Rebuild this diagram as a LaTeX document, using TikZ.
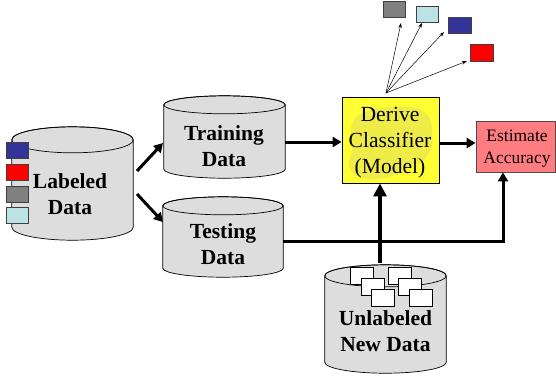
\documentclass[tikz,border=0pt]{standalone}
\usepackage{fontspec}
\setmainfont{Liberation Serif}
\usetikzlibrary{arrows.meta,calc}
\definecolor{cylfill}{HTML}{DDDDDD}
\definecolor{dblue}{HTML}{333399}
\definecolor{lcyan}{HTML}{BDE2E6}
\definecolor{mgray}{HTML}{808080}
\definecolor{pinkred}{HTML}{FF7C80}
\definecolor{yel}{HTML}{FFFF33}
\definecolor{blobc}{HTML}{EFEC48}
\newcommand\drawcylinder[2]{%
  \path[draw=black,line width=0.7pt,fill=cylfill]
    let \p1=(#1.north west), \p2=(#1.south east), \n1={(\x2-\x1)/2} in
    (\x1,\y1-#2pt) -- (\x1,\y2+#2pt)
    arc[start angle=180,end angle=360,x radius=\n1,y radius=#2pt]
    -- (\x2,\y1-#2pt)
    arc[start angle=0,end angle=180,x radius=\n1,y radius=#2pt] -- cycle;
  \path[draw=black,line width=0.7pt]
    let \p1=(#1.north west), \p2=(#1.south east), \n1={(\x2-\x1)/2} in
    (\x1+\n1,\y1-#2pt) ellipse[x radius=\n1,y radius=#2pt];
}
\begin{document}
\begin{tikzpicture}[x=1pt,y=-1pt,
  cylbox/.style={rectangle,inner sep=0pt,minimum width=#1},
  boldtext/.style={align=center,inner sep=0pt,font=\bfseries\fontsize{21.5}{26}\selectfont},
  sq/.style={draw=black!75,line width=0.8pt,minimum width=22pt,minimum height=16pt,inner sep=0pt},
  wsq/.style={draw=black,fill=white,line width=0.8pt,minimum width=23pt,minimum height=17pt,inner sep=0pt},
  thickarrow/.style={line width=3pt,-{Triangle[length=9pt,width=10pt]}},
  bigarrow/.style={line width=3.6pt,-{Triangle[length=13pt,width=13pt]}},
  thinarrow/.style={line width=0.5pt,-{Stealth[length=5pt,width=3.5pt]}}]
\useasboundingbox (0,0) rectangle (556,376);

% cylinders
\node[cylbox=121pt,minimum height=113pt] (lab) at (72.5,183.5) {};
\node[cylbox=121pt,minimum height=82pt] (train) at (224.5,137) {};
\node[cylbox=120pt,minimum height=80pt] (test) at (223,237) {};
\node[cylbox=121pt,minimum height=108pt] (unl) at (385.5,319) {};
\drawcylinder{lab}{13}
\drawcylinder{train}{9}
\drawcylinder{test}{9}
\drawcylinder{unl}{11}

\node[boldtext] (labt) at (70,194) {Labeled\\Data};
\node[boldtext] (traint) at (224,146) {Training\\Data};
\node[boldtext] (testt) at (223,244) {Testing\\Data};
\node[boldtext] (unlt) at (385.5,331) {Unlabeled\\New Data};

% labeled squares
\node[sq,fill=dblue] (l1) at (17.5,150) {};
\node[sq,fill=red] (l2) at (17.5,172) {};
\node[sq,fill=mgray] (l3) at (17.5,194) {};
\node[sq,fill=lcyan] (l4) at (17.5,215) {};

% unlabeled white sheets
\node[wsq] (w1) at (361.5,275.5) {};
\node[wsq] (w2) at (372.5,287) {};
\node[wsq] (w3) at (383,298) {};
\node[wsq] (w4) at (399.5,275.5) {};
\node[wsq] (w5) at (410,287) {};
\node[wsq] (w6) at (421,298) {};

% derive classifier
\node[draw=black,line width=0.9pt,fill=yel,minimum width=97pt,minimum height=86pt,inner sep=0pt] (derive) at (390.5,140) {};
\fill[blobc] plot[smooth cycle,tension=0.8] coordinates {(352,150) (352,124) (366,112) (395,107) (424,112) (432,134) (426,158) (406,168) (386,178) (361,177) (349,166)};
\node[align=center,inner sep=0pt,font=\fontsize{21.6}{26}\selectfont] (derivet) at (390,143) {Derive\\Classifier\\(Model)};

% estimate accuracy
\node[draw=black!70,line width=0.8pt,fill=pinkred,minimum width=79pt,minimum height=51pt,inner sep=0pt] (est) at (515.5,146.5) {};
\node[align=center,inner sep=0pt,font=\fontsize{17.5}{22}\selectfont] (estt) at (517,149) {Estimate\\Accuracy};

% top class squares
\node[sq,fill=mgray] (t1) at (394,9) {};
\node[sq,fill=lcyan] (t2) at (427,14.5) {};
\node[sq,fill=dblue,minimum width=23pt] (t3) at (459.5,25) {};
\node[sq,fill=red,minimum width=23pt,minimum height=17pt] (t4) at (481.5,52.5) {};

% fan arrows
\coordinate (fan) at (386,93);
\coordinate (f1) at (401,23);
\coordinate (f2) at (422,23);
\coordinate (f3) at (444,32);
\coordinate (f4) at (467,61);
\draw[thinarrow] (fan) -- (f1);
\draw[thinarrow] (fan) -- (f2);
\draw[thinarrow] (fan) -- (f3);
\draw[thinarrow] (fan) -- (f4);

% main arrows
\coordinate (a1s) at (137,171);
\coordinate (a1e) at (163,143);
\coordinate (a2s) at (137,194);
\coordinate (a2e) at (163,222);
\draw[thickarrow] (a1s) -- (a1e);
\draw[thickarrow] (a2s) -- (a2e);
\draw[thickarrow] (train.east |- 0,142) -- (derive.west |- 0,142);
\draw[thickarrow] (derive.east |- 0,143) -- (est.west |- 0,143);
\draw[thickarrow] (test.east |- 0,241) -| ([xshift=-12.5pt]est.south);
\draw[bigarrow] (380,263) coordinate (ut) -- (ut |- derive.south);
\end{tikzpicture}
\end{document}
